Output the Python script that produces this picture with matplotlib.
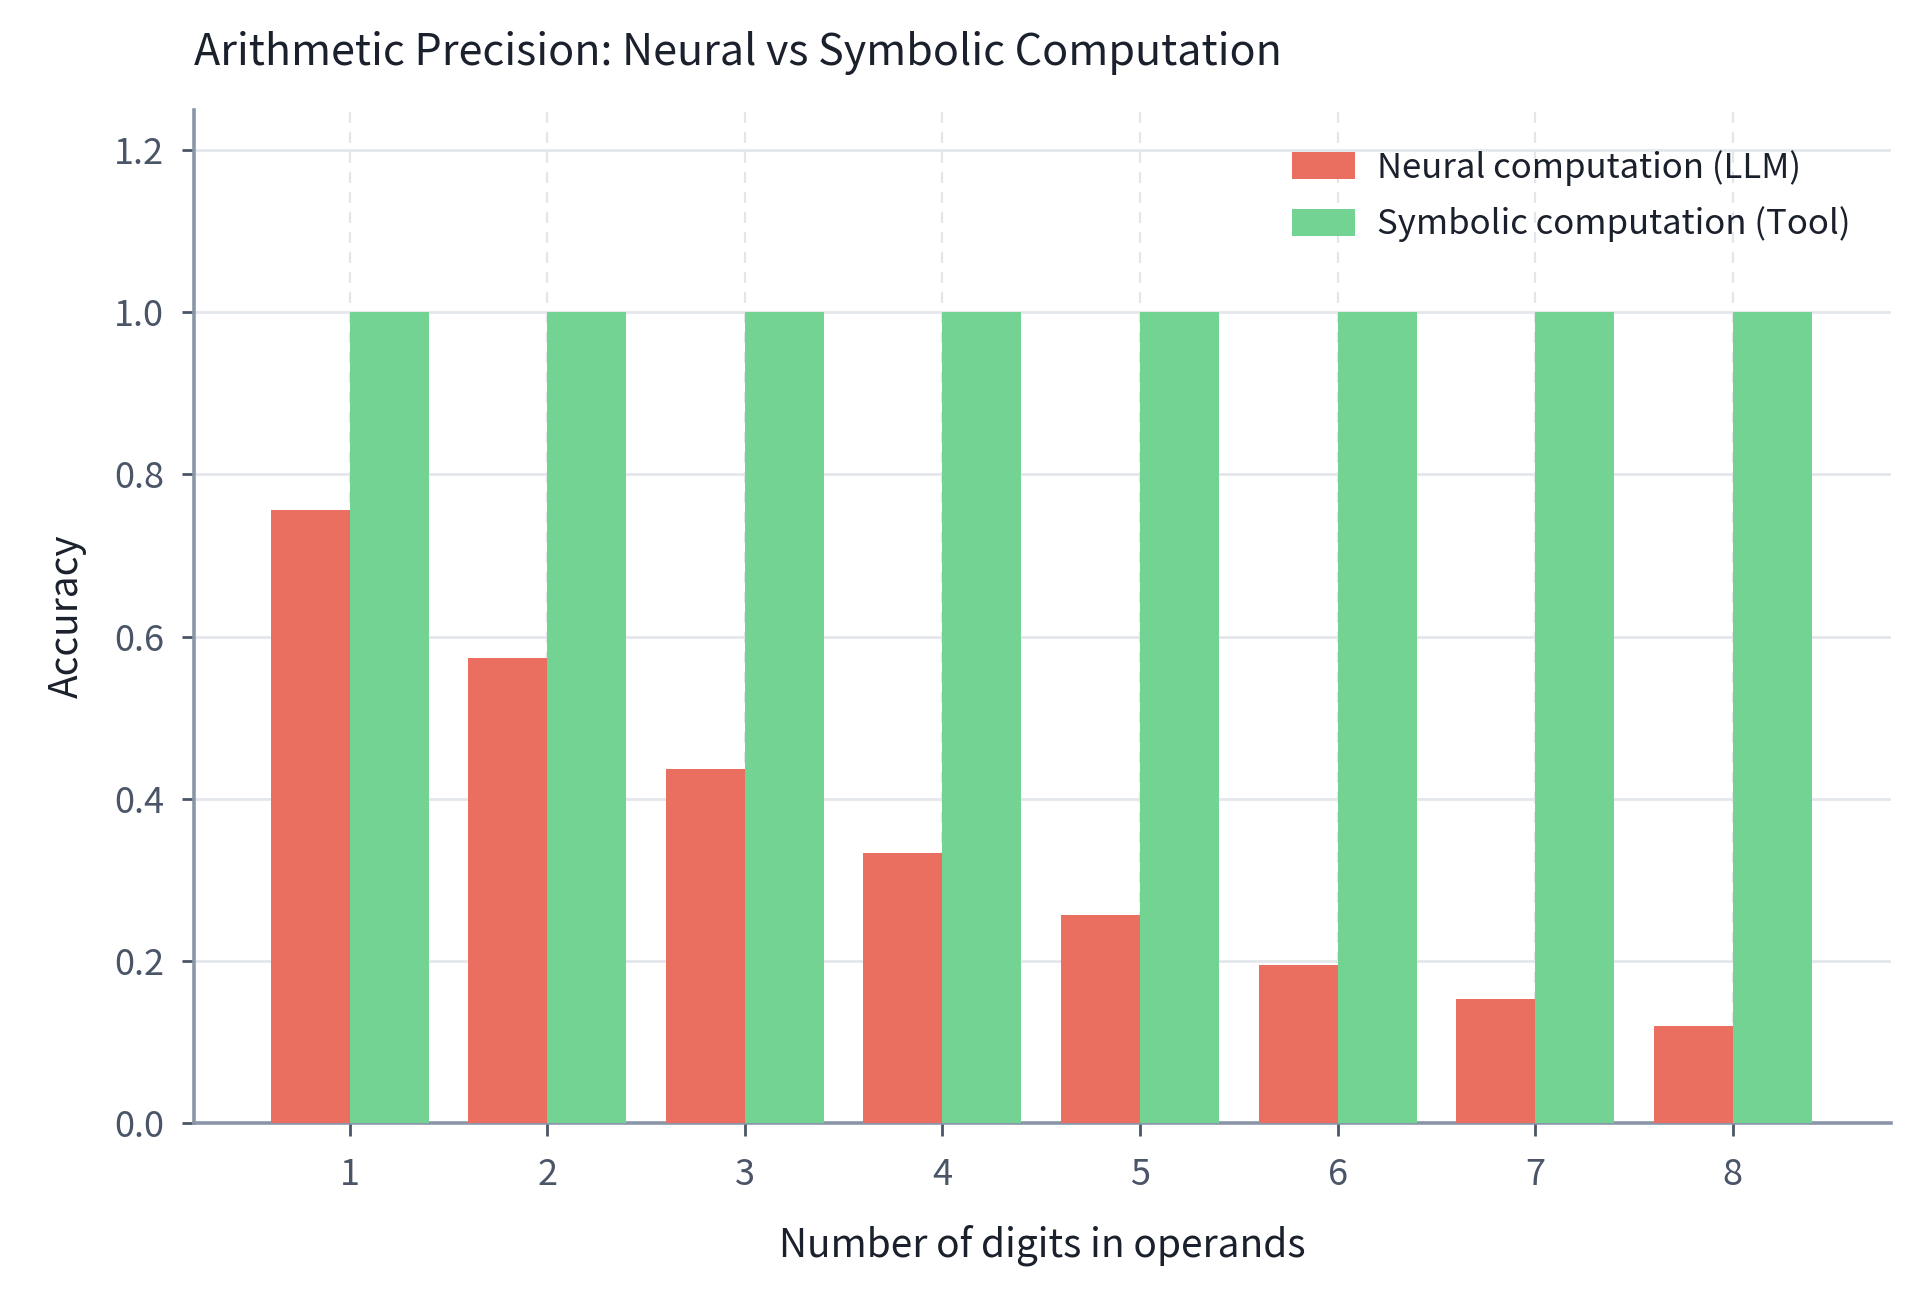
import matplotlib
matplotlib.use("Agg")
import matplotlib.pyplot as plt
import numpy as np

plt.rcParams['font.family'] = ['Noto Sans CJK KR', 'DejaVu Sans']

digits = [1, 2, 3, 4, 5, 6, 7, 8]
neural_acc = [0.756, 0.573, 0.436, 0.333, 0.256, 0.195, 0.153, 0.12]
symbolic_acc = [1.0, 1.0, 1.0, 1.0, 1.0, 1.0, 1.0, 1.0]
yticks = [0.0, 0.2, 0.4, 0.6, 0.8, 1.0, 1.2]

RED = '#EA6F61'
GREEN = '#72D392'
SPINE = '#8A96A8'
TICKTXT = '#4A5568'
DARK = '#1A202C'

fig = plt.figure(figsize=(9.6, 6.46), dpi=200)
ax = fig.add_axes([0.1008, 0.131, 0.884, 0.784])

x = np.array(digits)
w = 0.4
ax.bar(x - w / 2, neural_acc, w, color=RED, label='Neural computation (LLM)', zorder=3)
ax.bar(x + w / 2, symbolic_acc, w, color=GREEN, label='Symbolic computation (Tool)', zorder=3)

ax.set_xlim(0.21, 8.8)
ax.set_ylim(0, 1.25)
ax.set_xticks(digits)
ax.set_yticks(yticks)
ax.set_yticklabels([f"{v:.1f}" for v in yticks])

# grids: solid horizontal, dashed vertical, both behind bars
ax.yaxis.grid(True, color='#E3E7EB', linewidth=1.0, zorder=0)
ax.xaxis.grid(True, color='#E3E7EB', linewidth=0.8, linestyle=(0, (5, 4)), zorder=0)
ax.set_axisbelow(True)

for s in ['top', 'right']:
    ax.spines[s].set_visible(False)
for s in ['left', 'bottom']:
    ax.spines[s].set_color(SPINE)
    ax.spines[s].set_linewidth(1.3)

ax.tick_params(axis='both', colors=TICKTXT, labelsize=13, length=4.5, width=1.0)
ax.tick_params(axis='x', pad=8)
ax.tick_params(axis='y', pad=6)

ax.set_xlabel('Number of digits in operands', fontsize=14, color=DARK, labelpad=11)
ax.set_ylabel('Accuracy', fontsize=14, color=DARK, labelpad=10)
ax.set_title('Arithmetic Precision: Neural vs Symbolic Computation', loc='left',
             fontsize=15.5, color=DARK, pad=16)

leg = ax.legend(loc='upper right', frameon=False, fontsize=12.5, handlelength=1.8,
                handleheight=0.8, handletextpad=0.65, labelspacing=0.6,
                borderaxespad=0.75)
for t in leg.get_texts():
    t.set_color(DARK)

fig.savefig('out.png', dpi=200)
